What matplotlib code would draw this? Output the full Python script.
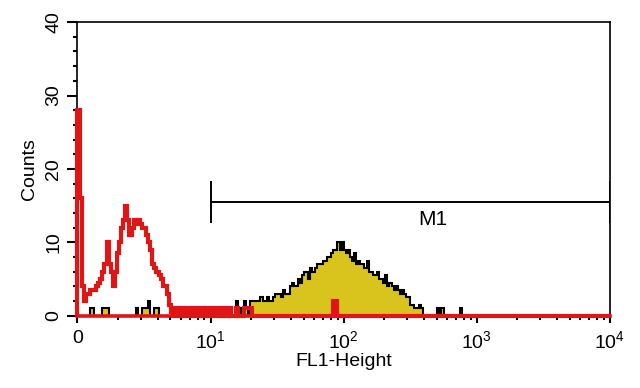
import numpy as np
import matplotlib
matplotlib.use('Agg')
import matplotlib.pyplot as plt

# 256 log channels spanning 10^0 .. 10^4
n_channels = 256

# control (red, unfilled) histogram, channels 0..45
red_low = [28, 16, 4, 2, 3, 3, 3.5, 3.5, 3.5, 4, 4.5, 5, 6, 7, 10, 7, 6, 4,
           6, 8.5, 10, 12, 13, 15, 13, 11, 12, 13, 12.5, 13, 12.5, 12, 12,
           11, 10, 9, 7, 6.5, 6, 5.5, 5, 4, 4, 3, 1.5, 0.5]
# red noise near baseline, channels 46..78
red_tail = [0, 1, 1, 0, 1, 0, 1, 1, 0, 1, 1, 0, 0, 1, 1, 0, 1, 0, 1, 1, 0,
            0, 1, 0, 1, 0, 0, 1, 0, 0, 1, 0, 0]
red_bumps = {80: 1, 81: 1, 82: 1, 83: 1, 123: 2, 124: 2}

# stained sample (yellow, filled), sparse low channels
yel_sparse = {6: 1, 7: 1, 12: 1, 13: 1, 14: 1, 28: 1, 31: 1, 32: 1, 33: 1,
              34: 2, 37: 1, 38: 1, 66: 1, 71: 1, 76: 2, 173: 1, 175: 1, 184: 1}
# main peak, channels 78..165
yel_peak = [1, 0, 2, 1, 0, 2, 2, 2, 2, 2, 2.5, 2, 2, 2.5, 2, 2, 2.5, 3, 3, 3,
            2.5, 3.5, 3, 3, 4, 4.5, 4, 4, 5, 4.5, 5.5, 6, 6, 5, 6.5, 6, 6.5,
            7, 7, 7, 7.5, 7.5, 8, 8, 8.5, 9, 9, 10, 9, 10, 9, 8.5, 9, 8, 7.5,
            8.5, 7, 7.5, 7, 7, 6.5, 7.5, 6, 6, 5.5, 5.5, 6, 5, 5, 4.5, 5.5, 4,
            4.5, 4, 3.5, 4, 3.5, 3, 3.5, 3, 2.5, 2.5, 1.5, 1.5, 1, 1, 1.5, 1]

x_ticks = [1, 10, 100, 1000, 10000]
x_labels = ['0', '$10^1$', '$10^2$', '$10^3$', '$10^4$']
y_ticks = [0, 10, 20, 30, 40]

red = np.zeros(n_channels)
red[:len(red_low)] = red_low
red[46:46 + len(red_tail)] = red_tail
for c, v in red_bumps.items():
    red[c] = v

yel = np.zeros(n_channels)
for c, v in yel_sparse.items():
    yel[c] = v
yel[78:78 + len(yel_peak)] = yel_peak

edges = np.logspace(0, 4, n_channels + 1)

plt.rcParams['font.family'] = ['Liberation Sans', 'DejaVu Sans']
plt.rcParams['mathtext.fontset'] = 'custom'
plt.rcParams['mathtext.rm'] = 'Liberation Sans'
plt.rcParams['mathtext.it'] = 'Liberation Sans'

fig = plt.figure(figsize=(6.4, 3.88), dpi=100)
ax = fig.add_axes([0.121, 0.186, 0.832, 0.757])

ax.stairs(yel, edges, fill=True, color='#d8c41c', zorder=2)
ax.stairs(yel, edges, color='black', lw=1.5, zorder=3)
ax.stairs(red, edges, color='#e01616', lw=3, zorder=4, clip_on=False)
ax.plot([1, 10000], [0, 0], color='#e01616', lw=2.6, zorder=4, clip_on=False)

# M1 marker
ax.plot([10, 10000], [15.5, 15.5], color='black', lw=1.4, zorder=5)
ax.plot([10, 10], [12.8, 18.2], color='black', lw=1.4, zorder=5)
ax.plot([10000, 10000], [12.8, 18.2], color='black', lw=1.4, zorder=5)
ax.text(468, 13.1, 'M1', fontsize=15, ha='center', va='center')

ax.set_xscale('log')
ax.set_xlim(1, 10000)
ax.set_ylim(0, 40)
ax.set_xticks(x_ticks)
ax.set_xticklabels(x_labels, fontsize=14)
ax.set_yticks(y_ticks)
ax.set_yticks(np.arange(0, 41, 2), minor=True)
ax.set_yticklabels([str(v) for v in y_ticks], fontsize=14, rotation=90,
                   va='center')
ax.tick_params(axis='y', which='major', length=7, width=1.5, pad=4)
ax.tick_params(axis='y', which='minor', length=3, width=1.5)
ax.tick_params(axis='x', which='major', length=5, width=1.5, pad=5)
ax.tick_params(axis='x', which='minor', length=3, width=1.5, labelbottom=False)
for s in ax.spines.values():
    s.set_linewidth(1.2)

ax.set_xlabel('FL1-Height', fontsize=14, labelpad=1)
ax.set_ylabel('Counts', fontsize=14, labelpad=5)

fig.savefig('out.png', dpi=100)
